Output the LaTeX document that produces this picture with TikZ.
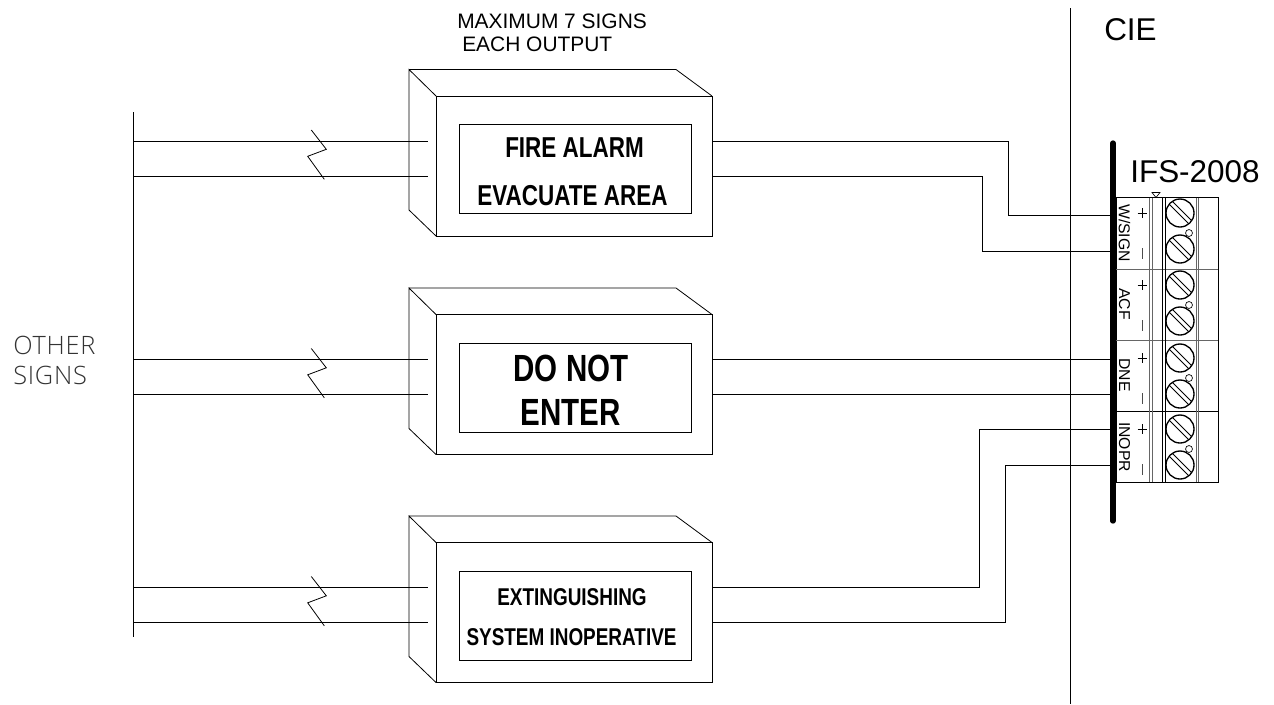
\documentclass[tikz,border=0pt]{standalone}
\usepackage{fontspec}
\setmainfont{Liberation Sans}
\newfontfamily\narrowb[FakeStretch=0.78]{Liberation Sans Bold}
\newfontfamily\thinf[LetterSpace=3]{Open Sans Light}
\usetikzlibrary{calc}
\tikzset{
  px/.style={x=0.75pt,y=-0.75pt},
  thinline/.style={line width=0.6pt,black},
  wire/.style={line width=0.6pt,black},
  frontbox/.style={draw,line width=0.6pt,minimum width=207pt,minimum height=105pt,inner sep=0pt},
  signbox/.style={draw,line width=0.6pt,minimum width=174pt,minimum height=66.75pt,inner sep=0pt,align=center},
  screw/.style={circle,draw,line width=1pt,minimum size=21pt,inner sep=0pt},
  dot/.style={circle,draw,line width=.5pt,minimum size=5.2pt,inner sep=0pt},
  lab/.style={inner sep=0pt,font=\fontsize{15.7}{17}\selectfont},
  vlab/.style={inner sep=0pt,rotate=-90,font=\fontsize{11.8}{13}\selectfont},
  bigl/.style={inner sep=0pt,font=\fontsize{23.6}{26}\selectfont},
  othertext/.style={inner sep=0pt,anchor=west,font=\thinf\fontsize{19}{21}\selectfont,text=black!80},
  signa/.style={inner sep=0pt,font=\narrowb\fontsize{21.6}{23}\selectfont},
  signb/.style={inner sep=0pt,font=\narrowb\fontsize{28.4}{30}\selectfont},
  signc/.style={inner sep=0pt,font=\narrowb\fontsize{18.2}{20}\selectfont}
}
\newcommand{\boxshell}[2]{% name, offset
  \draw[thinline] (409,69.5+#2) -- (676,69.5+#2) -- (712,96+#2);
  \draw[thinline] (436,96+#2) -- (409,69.5+#2) -- (409,210+#2) -- (436,236+#2);
  \node[frontbox] (#1) at (574,166+#2) {};
  \coordinate (#1ua) at (133,141+#2);
  \coordinate (#1la) at (133,176+#2);
  \coordinate (#1ub) at (428,141+#2);
  \coordinate (#1lb) at (428,176+#2);
  \coordinate (#1uo) at (712,141+#2);
  \coordinate (#1lo) at (712,176+#2);
  \draw[wire] (#1ua) -- (#1ub);
  \draw[wire] (#1la) -- (#1lb);
  \draw[thinline] (311.3,130+#2) -- (326.3,149.3+#2) -- (307.7,156.3+#2) -- (324.3,179.3+#2);
}
\newcommand{\screwpair}[2]{% top y, name
  \node[screw] (#2a) at (1180,#1) {};
  \node[screw] (#2b) at (1180,#1+36) {};
  \node[dot] (#2d) at (1189,#1+20) {};
  \foreach \s in {a,b} {
    \draw[line width=.6pt] ($(#2\s)+(-11,-9)$) -- ($(#2\s)+(9,11)$);
    \draw[line width=.6pt] ($(#2\s)+(-8,-12)$) -- ($(#2\s)+(12,8)$);
  }
  \draw[line width=.6pt] (1137.5,#1) -- (1147,#1) (1142,#1-5) -- (1142,#1+5);
  \draw[line width=.6pt,black!70] (1142,#1+35) -- (1142,#1+46);
}
\begin{document}
\begin{tikzpicture}[px]
\useasboundingbox (0,0) rectangle (1274,704);
% main lines
\coordinate (cietop) at (1070,8);
\coordinate (ciebot) at (1070,704);
\draw[thinline] (cietop) -- (ciebot);
\coordinate (bustop) at (133,112);
\coordinate (busbot) at (133,637);
\draw[thinline] (bustop) -- (busbot);
% boxes
\boxshell{one}{0}
\boxshell{two}{218.5}
\boxshell{three}{446.5}
\node[signbox] (s1) at (575,168.5) {};
\node[signbox] (s2) at (575,387.5) {};
\node[signbox] (s3) at (575,615.5) {};
\node[signa] (t1a) at (574.5,148) {FIRE ALARM};
\node[signa] (t1b) at (572.5,196) {EVACUATE AREA};
\node[signb] (t2a) at (571,368) {DO NOT};
\node[signb] (t2b) at (570.5,412) {ENTER};
\node[signc] (t3a) at (572,597) {EXTINGUISHING};
\node[signc] (t3b) at (571.5,637) {SYSTEM INOPERATIVE};
% terminal block
\draw[line width=.6pt] (1116,197.5) rectangle (1218,482);
\draw[line width=.6pt,black!60] (1116,269) -- (1218,269) (1116,340) -- (1218,340);
\draw[line width=.6pt] (1116,411) -- (1218,411);
\draw[line width=.6pt,black!60] (1149,197.5) -- (1149,482) (1152,197.5) -- (1152,482) (1196,197.5) -- (1196,482) (1198,197.5) -- (1198,482);
\draw[line width=.6pt] (1162.5,197.5) -- (1162.5,482) (1165,197.5) -- (1165,482);
\draw[line width=.5pt] (1152,192.5) -- (1160,192.5) -- (1156,197.5) -- cycle;
\screwpair{213}{A}
\screwpair{285}{B}
\screwpair{358}{C}
\screwpair{429}{D}
% bar
\coordinate (bart) at (1113,143);
\coordinate (barb) at (1113,521);
\draw[line width=4pt,line cap=round] (bart) -- (barb);
\node[vlab] (v1) at (1124.5,233) {W/SIGN};
\node[vlab] (v2) at (1124.5,304) {ACF};
\node[vlab] (v3) at (1124.5,375) {DNE};
\node[vlab] (v4) at (1124.5,447) {INOPR};
\coordinate (p1) at (1113,215);
\coordinate (p2) at (1113,251);
\coordinate (p3) at (1113,359.5);
\coordinate (p4) at (1113,394.5);
\coordinate (p5) at (1113,429);
\coordinate (p6) at (1113,465);
% wires
\draw[wire] (oneuo) -- (1008,141) -- (1008,215) -- (p1);
\draw[wire] (onelo) -- (982,176) -- (982,251) -- (p2);
\draw[wire] (twouo) -- (p3);
\draw[wire] (twolo) -- (p4);
\draw[wire] (threeuo) -- (979,587.5) -- (979,429) -- (p5);
\draw[wire] (threelo) -- (1005,622.5) -- (1005,465) -- (p6);
% labels
\node[lab,anchor=west] (m1) at (457,21) {MAXIMUM 7 SIGNS};
\node[lab,anchor=west] (m2) at (462,44.5) {EACH OUTPUT};
\node[bigl,anchor=west] (cie) at (1104,30) {CIE};
\node[bigl,anchor=west] (ifs) at (1130,172) {IFS-2008};
\node[othertext] (o1) at (13,345.5) {OTHER};
\node[othertext] (o2) at (13,375.5) {SIGNS};
\end{tikzpicture}
\end{document}
